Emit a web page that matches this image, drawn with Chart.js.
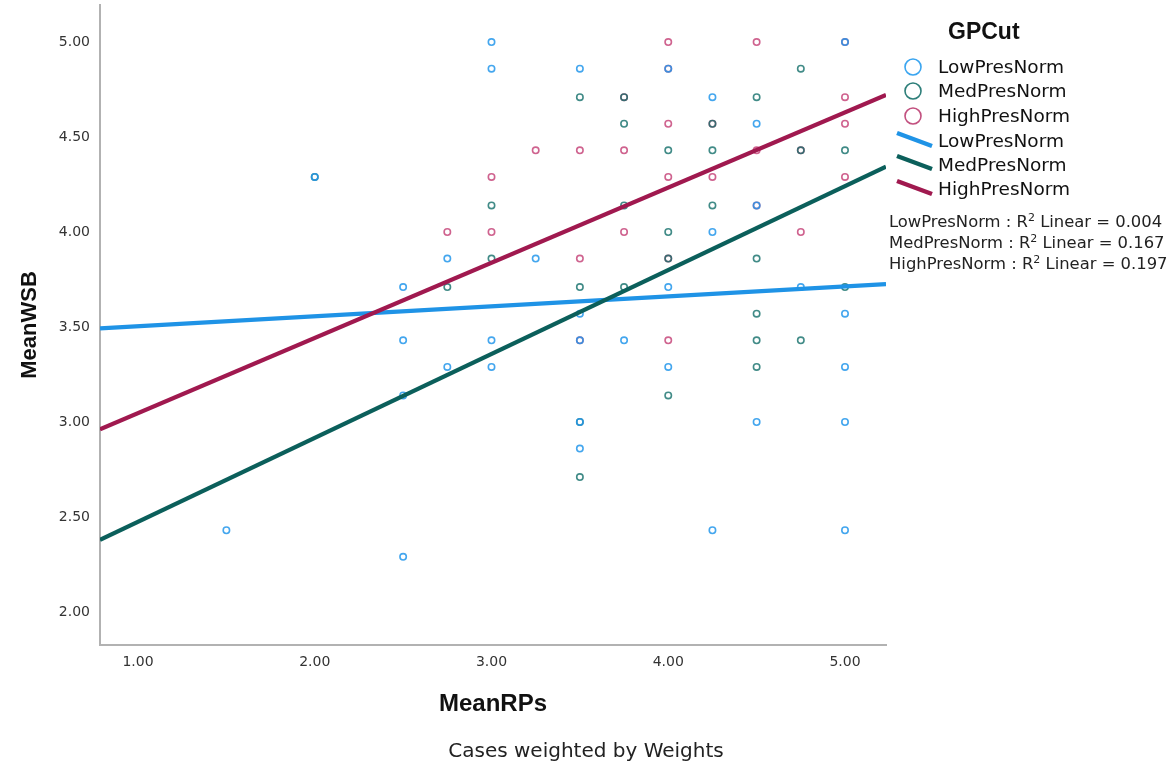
<!DOCTYPE html>
<html>
<head>
<meta charset="utf-8">
<script src="https://cdn.jsdelivr.net/npm/chart.js@4.4.1/dist/chart.umd.min.js"></script>
<style>
  html, body { margin: 0; padding: 0; background: #fff; }
  #wrap { position: relative; width: 1173px; height: 765px; overflow: hidden; }
  canvas { position: absolute; left: 0; top: 0; }
  .t { position: absolute; white-space: nowrap; color: #111; font-family: "DejaVu Sans", sans-serif; line-height: 1; }
  .lg { font-size: 18.5px; transform: translateY(-50%); }
  .r2 { font-size: 16.4px; transform: translateY(-50%); color: #222; }
  #ttl { font-family: "Liberation Sans", Arial, sans-serif; font-weight: bold; font-size: 23px; left: 948px; top: 31px; transform: translateY(-50%); color: #111; }
  #foot { font-size: 20px; left: 586px; top: 750px; transform: translate(-50%, -50%); color: #222; }
  svg { position: absolute; left: 0; top: 0; }
</style>
</head>
<body>
<div id="wrap">
  <canvas id="c" width="1173" height="765"></canvas>
  <svg width="1173" height="765" id="sym"></svg>
  <div class="t" id="ttl">GPCut</div>
  <div class="t lg" style="left:938px; top:67px">LowPresNorm</div>
  <div class="t lg" style="left:938px; top:91px">MedPresNorm</div>
  <div class="t lg" style="left:938px; top:116px">HighPresNorm</div>
  <div class="t lg" style="left:938px; top:141px">LowPresNorm</div>
  <div class="t lg" style="left:938px; top:165px">MedPresNorm</div>
  <div class="t lg" style="left:938px; top:189px">HighPresNorm</div>
  <div class="t r2" style="left:889px; top:221px">LowPresNorm : R<sup style="font-size:11px">2</sup> Linear = 0.004</div>
  <div class="t r2" style="left:889px; top:242px">MedPresNorm : R<sup style="font-size:11px">2</sup> Linear = 0.167</div>
  <div class="t r2" style="left:889px; top:263px">HighPresNorm : R<sup style="font-size:11px">2</sup> Linear = 0.197</div>
  <div class="t" id="foot">Cases weighted by Weights</div>
</div>
<script>
// ---- data ----
const groups = ["LowPresNorm", "MedPresNorm", "HighPresNorm"];
const lowX  = [1.5, 2.0, 2.5, 2.5, 2.5, 2.5, 2.75, 2.75, 3.0, 3.0, 3.0, 3.0, 3.25, 3.5, 3.5, 3.5, 3.5, 3.5, 3.75, 4.0, 4.0, 4.0, 4.25, 4.25, 4.25, 4.5, 4.5, 4.5, 4.75, 5.0, 5.0, 5.0, 5.0, 5.0];
const lowY  = [2.43, 4.29, 3.71, 3.43, 3.14, 2.29, 3.86, 3.29, 5.0, 4.86, 3.43, 3.29, 3.86, 4.86, 3.57, 3.43, 3.0, 2.86, 3.43, 4.86, 3.71, 3.29, 4.71, 4.0, 2.43, 4.57, 4.14, 3.0, 3.71, 5.0, 3.57, 3.29, 3.0, 2.43];
const medX  = [2.0, 2.75, 3.0, 3.0, 3.5, 3.5, 3.5, 3.5, 3.75, 3.75, 3.75, 3.75, 4.0, 4.0, 4.0, 4.0, 4.25, 4.25, 4.25, 4.5, 4.5, 4.5, 4.5, 4.5, 4.75, 4.75, 4.75, 5.0, 5.0];
const medY  = [4.29, 3.71, 4.14, 3.86, 4.71, 3.71, 3.0, 2.71, 4.71, 4.57, 4.14, 3.71, 4.43, 4.0, 3.86, 3.14, 4.57, 4.43, 4.14, 4.71, 3.86, 3.57, 3.43, 3.29, 4.86, 4.43, 3.43, 4.43, 3.71];
const highX = [2.75, 3.0, 3.0, 3.25, 3.5, 3.5, 3.5, 3.75, 3.75, 3.75, 4.0, 4.0, 4.0, 4.0, 4.0, 4.0, 4.25, 4.25, 4.5, 4.5, 4.5, 4.75, 4.75, 5.0, 5.0, 5.0, 5.0];
const highY = [4.0, 4.29, 4.0, 4.43, 4.43, 3.86, 3.43, 4.71, 4.43, 4.0, 5.0, 4.86, 4.57, 4.29, 3.86, 3.43, 4.57, 4.29, 5.0, 4.43, 4.14, 4.43, 4.0, 5.0, 4.71, 4.57, 4.29];
// fit lines (value at left and right edge of the plot)
const fitX     = [0.785, 5.232];
const lowFitY  = [3.493, 3.726];
const medFitY  = [2.379, 4.344];
const highFitY = [2.962, 4.721];
const xTicks = [1, 2, 3, 4, 5];
const yTicks = [2, 2.5, 3, 3.5, 4, 4.5, 5];
const xRange = [0.785, 5.232];
const yRange = [1.826, 5.195];

// ---- styles ----
const ptCol   = ["rgba(35,150,235,0.85)", "rgba(18,110,105,0.8)", "rgba(195,60,115,0.8)"];
const lineCol = ["#1f93e6", "#0b5f5b", "#a0194f"];
const legPt   = ["#3aa5f0", "#2d7e79", "#c2507f"];

const pts = (xs, ys) => xs.map((x, i) => ({ x, y: ys[i] }));
const ptDs = (label, xs, ys, c) => ({
  label, data: pts(xs, ys), pointRadius: 3.2, pointHoverRadius: 3.2, pointBorderWidth: 1.6,
  borderColor: c, backgroundColor: 'rgba(0,0,0,0)', pointBackgroundColor: 'rgba(0,0,0,0)',
  showLine: false, order: 5
});
const lnDs = (label, ys, c, ord) => ({
  label, data: pts(fitX, ys), showLine: true, pointRadius: 0, borderColor: c,
  borderWidth: 4.2, backgroundColor: c, order: ord
});

const fmt = v => v.toFixed(2);
const tickFont = { family: "DejaVu Sans", size: 14 };

new Chart(document.getElementById('c'), {
  type: 'scatter',
  data: {
    datasets: [
      ptDs(groups[0], lowX, lowY, ptCol[0]),
      ptDs(groups[1], medX, medY, ptCol[1]),
      ptDs(groups[2], highX, highY, ptCol[2]),
      lnDs(groups[0], lowFitY, lineCol[0], 3),
      lnDs(groups[1], medFitY, lineCol[1], 2),
      lnDs(groups[2], highFitY, lineCol[2], 1)
    ]
  },
  options: {
    responsive: false, animation: false,
    layout: { padding: { top: 5, right: 287, bottom: 0, left: 0 } },
    plugins: { legend: { display: false }, tooltip: { enabled: false } },
    scales: {
      x: {
        type: 'linear', min: xRange[0], max: xRange[1],
        grid: { display: false, drawTicks: false },
        border: { display: true, color: '#b2b2b2', width: 2 },
        afterBuildTicks: s => { s.ticks = xTicks.map(v => ({ value: v })); },
        afterFit: s => { s.height = 120; s.paddingLeft = 0; s.paddingRight = 0; },
        ticks: { font: tickFont, color: '#333', padding: 9, callback: v => fmt(v), maxRotation: 0, autoSkip: false },
        title: { display: true, text: 'MeanRPs', color: '#111',
                 font: { family: "Liberation Sans", weight: 'bold', size: 24 }, padding: { top: 0, bottom: 46 } }
      },
      y: {
        type: 'linear', min: yRange[0], max: yRange[1],
        grid: { display: false, drawTicks: false },
        border: { display: true, color: '#b2b2b2', width: 2 },
        afterBuildTicks: s => { s.ticks = yTicks.map(v => ({ value: v })); },
        afterFit: s => { s.width = 100; s.paddingTop = 0; s.paddingBottom = 0; },
        ticks: { font: tickFont, color: '#333', padding: 10, callback: v => fmt(v), autoSkip: false },
        title: { display: true, text: 'MeanWSB', color: '#111',
                 font: { family: "Liberation Sans", weight: 'bold', size: 22 }, padding: { top: 17, bottom: 0 } }
      }
    }
  }
});

// legend symbols
const svg = document.getElementById('sym');
const NS = 'http://www.w3.org/2000/svg';
[67, 91, 116].forEach((y, i) => {
  const c = document.createElementNS(NS, 'circle');
  c.setAttribute('cx', 913); c.setAttribute('cy', y); c.setAttribute('r', 8);
  c.setAttribute('fill', 'none'); c.setAttribute('stroke', legPt[i]); c.setAttribute('stroke-width', 1.6);
  svg.appendChild(c);
});
[133, 156, 181].forEach((y, i) => {
  const l = document.createElementNS(NS, 'line');
  l.setAttribute('x1', 897); l.setAttribute('y1', y); l.setAttribute('x2', 932); l.setAttribute('y2', y + 13);
  l.setAttribute('stroke', lineCol[i]); l.setAttribute('stroke-width', 4.5);
  svg.appendChild(l);
});
</script>
</body>
</html>
